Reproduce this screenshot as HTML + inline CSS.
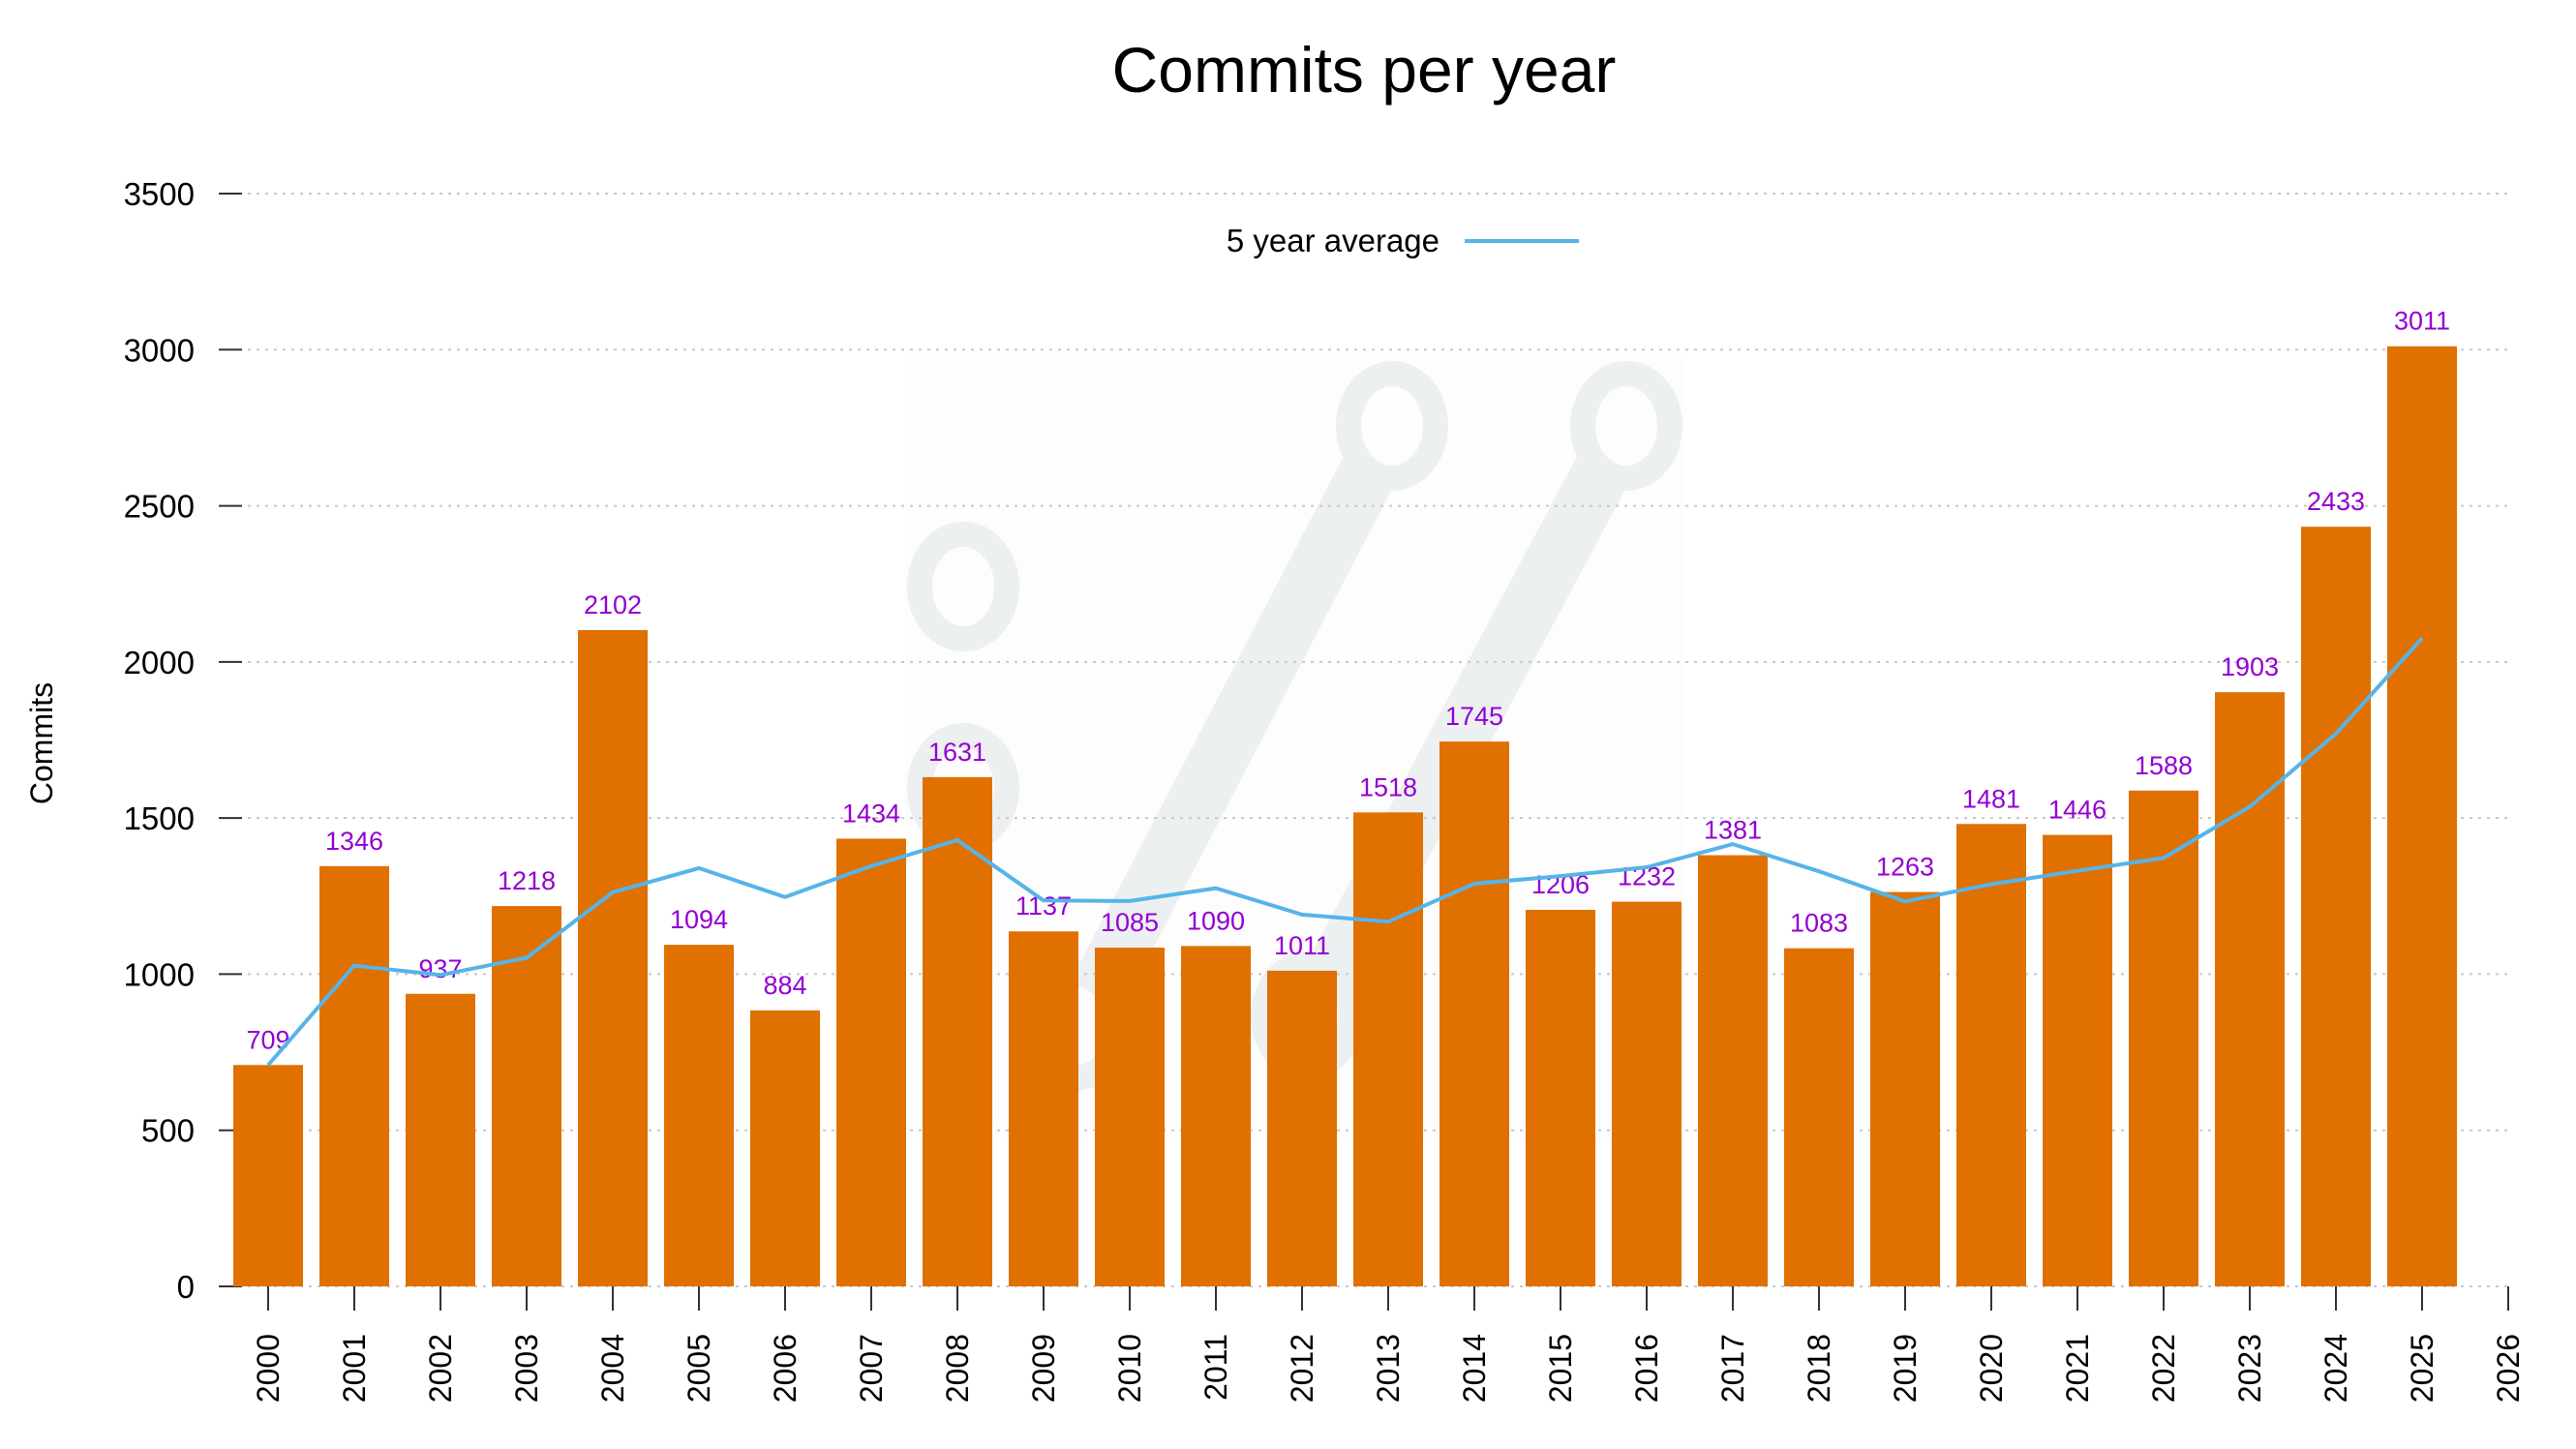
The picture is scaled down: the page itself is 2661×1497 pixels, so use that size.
<!DOCTYPE html>
<html><head><meta charset="utf-8"><style>
html,body{margin:0;padding:0;background:#fff;}
svg{display:block;font-family:"Liberation Sans",Arial,sans-serif;}
</style></head><body>
<svg id="s" width="2661" height="1497" viewBox="0 0 2661 1497" xmlns="http://www.w3.org/2000/svg">
<rect width="2661" height="1497" fill="#fff"/>
<rect x="935" y="367" width="805" height="810" fill="#fdfdfd"/>
<g id="wm">
<g stroke="#ecf0f1" fill="none">
<line x1="1126" y1="1040" x2="1438" y2="440" stroke-width="60"/>
<line x1="1365" y1="1030" x2="1680" y2="440" stroke-width="60"/>
<ellipse cx="1438" cy="440" rx="45" ry="54" stroke-width="26" fill="#fdfdfd"/>
<ellipse cx="1680" cy="440" rx="45" ry="54" stroke-width="26" fill="#fdfdfd"/>
<ellipse cx="995" cy="606" rx="45" ry="54" stroke-width="26" fill="#fdfdfd"/>
<ellipse cx="995" cy="814" rx="45" ry="54" stroke-width="26" fill="#fdfdfd"/>
<ellipse cx="1110" cy="1060" rx="45" ry="54" stroke-width="26" fill="#fdfdfd"/>
<ellipse cx="1350" cy="1050" rx="45" ry="54" stroke-width="26" fill="#fdfdfd"/>
</g>
</g>
<g id="grid"></g>
<g id="bars"></g>
<text x="1409" y="95" font-size="66" text-anchor="middle" fill="#000">Commits per year</text>
<text x="1487" y="260" font-size="33" text-anchor="end" fill="#000">5 year average</text>
<line x1="1513" y1="249" x2="1631" y2="249" stroke="#56b4e9" stroke-width="4"/>
<text transform="translate(54,768) rotate(-90)" font-size="32" text-anchor="middle" fill="#000">Commits</text>
</svg>
<script>
var d=[709,1346,937,1218,2102,1094,884,1434,1631,1137,1085,1090,1011,1518,1745,1206,1232,1381,1083,1263,1481,1446,1588,1903,2433,3011];
var ns="http://www.w3.org/2000/svg";
function Y(v){return 1329-v*0.32257;}
function X(i){return 277+i*89;}
function el(p,t,a,tx){var e=document.createElementNS(ns,t);for(var k in a)e.setAttribute(k,a[k]);if(tx!=null)e.textContent=tx;document.getElementById(p).appendChild(e);return e;}
for(var v=0;v<=3500;v+=500){var y=Y(v);
el("grid","line",{x1:256,y1:y,x2:2595,y2:y,stroke:"#c8c8c8","stroke-width":2,"stroke-dasharray":"3,6"});
el("grid","line",{x1:226,y1:y,x2:250,y2:y,stroke:"#333","stroke-width":2});
el("grid","text",{x:201,y:y+12,"font-size":33,"text-anchor":"end",fill:"#000"},v);}
for(var i=0;i<=26;i++){var x=X(i);
el("grid","line",{x1:x,y1:1329,x2:x,y2:1354,stroke:"#333","stroke-width":2});
el("grid","text",{transform:"translate("+(x+11)+",1378) rotate(-90)","font-size":32,"text-anchor":"end",fill:"#000"},2000+i);}
var pts=[];
for(var i=0;i<d.length;i++){var x=X(i),y=Y(d[i]);
el("bars","rect",{x:x-36,y:y,width:72,height:1329-y,fill:"#e07000"});
el("bars","text",{x:x,y:y-17,"font-size":27,"text-anchor":"middle",fill:"#9400d3"},d[i]);
var s=0,n=0;for(var j=Math.max(0,i-4);j<=i;j++){s+=d[j];n++;}
pts.push(x+","+Y(s/n).toFixed(1));}
el("bars","polyline",{points:pts.join(" "),fill:"none",stroke:"#56b4e9","stroke-width":4,"stroke-linejoin":"round"});
</script>
</body></html>
